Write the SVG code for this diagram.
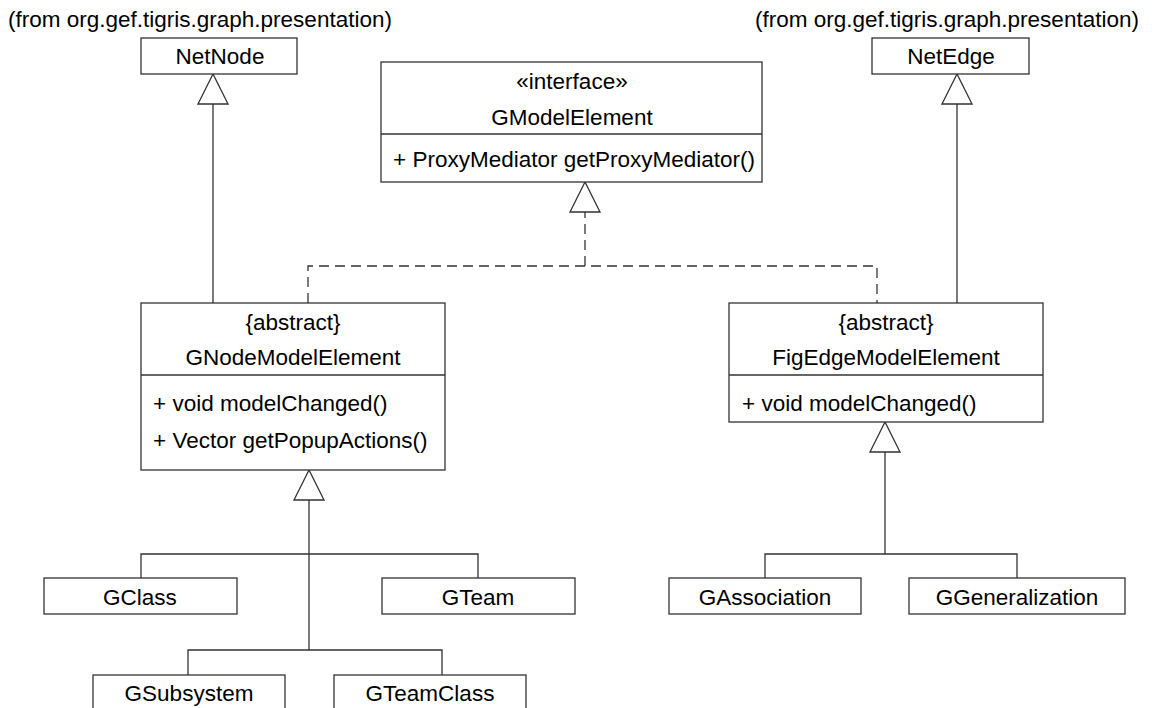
<svg xmlns="http://www.w3.org/2000/svg" width="1173" height="708" viewBox="0 0 1173 708">
<style>
.box{fill:#fff;stroke:#333;stroke-width:1.3}
.t{font-family:"Liberation Sans",Arial,sans-serif;font-size:22.5px;fill:#000}
.c{text-anchor:middle}
.ln{fill:none;stroke:#333;stroke-width:1.3}
.dash{stroke-dasharray:10,6}
.tri{fill:#fff;stroke:#333;stroke-width:1.3}
</style>
<rect width="1173" height="708" fill="#fff"/>
<g id="connectors">
<path class="ln" d="M213,303 V104"/>
<polygon class="tri" points="213,74 198,104 228,104"/>
<path class="ln" d="M957,303 V104"/>
<polygon class="tri" points="957,74 942,104 972,104"/>
<path class="ln dash" d="M308,303 V266 H877 V303"/>
<path class="ln dash" d="M585,266 V212"/>
<polygon class="tri" points="585,182 570,212 600,212"/>
<path class="ln" d="M309,500 V650"/>
<polygon class="tri" points="309,470 294,500 324,500"/>
<path class="ln" d="M141,578 V554 H478 V578"/>
<path class="ln" d="M188,675 V650 H442 V675"/>
<path class="ln" d="M885,452 V554"/>
<polygon class="tri" points="885,422 870,452 900,452"/>
<path class="ln" d="M765,578 V554 H1017 V578"/>
</g>
<g id="NetNode">
<text class="t" x="8" y="27">(from org.gef.tigris.graph.presentation)</text>
<rect class="box" x="141" y="38" width="156" height="36"/>
<text class="t c" x="220" y="64">NetNode</text>
</g>
<g id="NetEdge">
<text class="t" x="755" y="27">(from org.gef.tigris.graph.presentation)</text>
<rect class="box" x="872" y="38" width="157" height="36"/>
<text class="t c" x="951" y="64">NetEdge</text>
</g>
<g id="GModelElement">
<rect class="box" x="381" y="62" width="381" height="120"/>
<path class="ln" d="M381,134 H762"/>
<text class="t c" x="572" y="89">«interface»</text>
<text class="t c" x="572" y="125">GModelElement</text>
<text class="t" x="393" y="167">+ ProxyMediator getProxyMediator()</text>
</g>
<g id="GNodeModelElement">
<rect class="box" x="141" y="303" width="304" height="167"/>
<path class="ln" d="M141,375 H445"/>
<text class="t c" x="293" y="330">{abstract}</text>
<text class="t c" x="293" y="365">GNodeModelElement</text>
<text class="t" x="153" y="411">+ void modelChanged()</text>
<text class="t" x="153" y="448">+ Vector getPopupActions()</text>
</g>
<g id="FigEdgeModelElement">
<rect class="box" x="729" y="303" width="314" height="119"/>
<path class="ln" d="M729,375 H1043"/>
<text class="t c" x="886" y="330">{abstract}</text>
<text class="t c" x="886" y="365">FigEdgeModelElement</text>
<text class="t" x="742" y="411">+ void modelChanged()</text>
</g>
<g id="GClass">
<rect class="box" x="44" y="578" width="193" height="36"/>
<text class="t c" x="140" y="605">GClass</text>
</g>
<g id="GTeam">
<rect class="box" x="382" y="578" width="193" height="36"/>
<text class="t c" x="478" y="605">GTeam</text>
</g>
<g id="GSubsystem">
<rect class="box" x="93" y="675" width="192" height="40"/>
<text class="t c" x="189" y="701">GSubsystem</text>
</g>
<g id="GTeamClass">
<rect class="box" x="334" y="675" width="192" height="40"/>
<text class="t c" x="430" y="701">GTeamClass</text>
</g>
<g id="GAssociation">
<rect class="box" x="669" y="578" width="192" height="36"/>
<text class="t c" x="765" y="605">GAssociation</text>
</g>
<g id="GGeneralization">
<rect class="box" x="909" y="578" width="216" height="36"/>
<text class="t c" x="1017" y="605">GGeneralization</text>
</g>
</svg>
